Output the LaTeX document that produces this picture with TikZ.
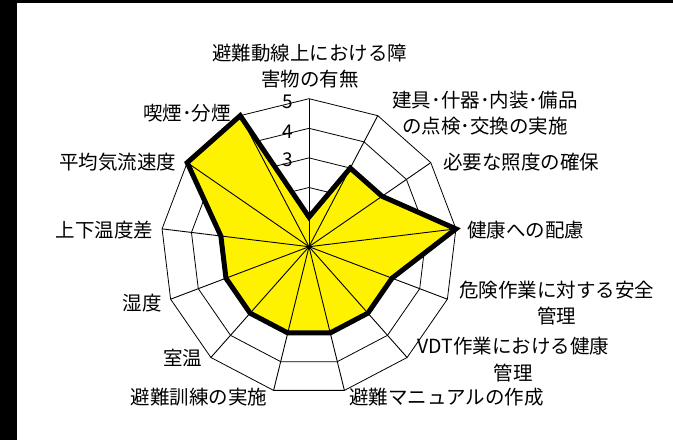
\documentclass[tikz,border=0pt]{standalone}
\usepackage{fontspec}
\setmainfont{Noto Sans CJK JP}
\usetikzlibrary{positioning}

\begin{document}
\begin{tikzpicture}[
        x=1pt, y=1pt,
        every node/.style={font=\fontsize{19.5}{26.3}\selectfont, align=center, inner sep=0pt},
        ring/.style={draw=black, line width=0.8pt},
        spoke/.style={draw=black, line width=0.9pt},
        tick/.style={font=\fontsize{19}{19}\selectfont},
        series/.style={draw=black, line width=5pt, line join=miter}
    ]
    \useasboundingbox (-309,-193.3) rectangle (364,246.7);

    % Frame
    \fill[black] (-309,-193.3) rectangle (-291.5,246.7);
    \fill[black] (-309,243.5) rectangle (364,246.7);

    % Grid
    \coordinate (O) at (0,0);
    \foreach \r in {29.6,59.2,88.8,118.4,148}
        \draw[ring] (90:\r) \foreach \k in {1,...,12} { -- (90-\k*360/13:\r) } -- cycle;
    \foreach \k in {0,...,12}
        \coordinate (ax\k) at (90-\k*360/13:148);

    % Scale
    \node[tick] (t5) at (-21.5,144.7) {5};
    \node[tick] (t4) at (-21.5,114.7) {4};
    \node[tick] (t3) at (-21.5,86.7) {3};

    % Data
    \fill[yellow] (90:29.6) -- (90-1*360/13:88.8) -- (90-2*360/13:88.8)
        -- (90-3*360/13:148) -- (90-4*360/13:88.8) -- (90-5*360/13:88.8)
        -- (90-6*360/13:88.8) -- (90-7*360/13:88.8) -- (90-8*360/13:88.8)
        -- (90-9*360/13:88.8) -- (90-10*360/13:88.8) -- (90-11*360/13:148)
        -- (90-12*360/13:148) -- cycle;
    \foreach \k in {0,...,12}
        \draw[spoke] (O) -- (ax\k);
    \draw[series] (90:29.6) -- (90-1*360/13:88.8) -- (90-2*360/13:88.8)
        -- (90-3*360/13:148) -- (90-4*360/13:88.8) -- (90-5*360/13:88.8)
        -- (90-6*360/13:88.8) -- (90-7*360/13:88.8) -- (90-8*360/13:88.8)
        -- (90-9*360/13:88.8) -- (90-10*360/13:88.8) -- (90-11*360/13:148)
        -- (90-12*360/13:148) -- cycle;

    % Labels
    \node (route) at (1,180.5) {避難動線上における障\\害物の有無};
    \node (fixtures) at (176,133.4) {建具･什器･内装･備品\\の点検･交換の実施};
    \node (light) at (212.5,85) {必要な照度の確保};
    \node (health) at (216.7,16.7) {健康への配慮};
    \node (danger) at (248,-56.3) {危険作業に対する安全\\管理};
    \node (vdt) at (204.5,-113) {VDT作業における健康\\管理};
    \node (manual) at (137.5,-150) {避難マニュアルの作成};
    \node (drill) at (-110,-150) {避難訓練の実施};
    \node (temp) at (-126,-111.6) {室温};
    \node (humid) at (-166.6,-56.6) {湿度};
    \node (vgrad) at (-204.7,16.7) {上下温度差};
    \node (airflow) at (-191,85) {平均気流速度};
    \node (smoke) at (-122,133.4) {喫煙･分煙};

\end{tikzpicture}
\end{document}
